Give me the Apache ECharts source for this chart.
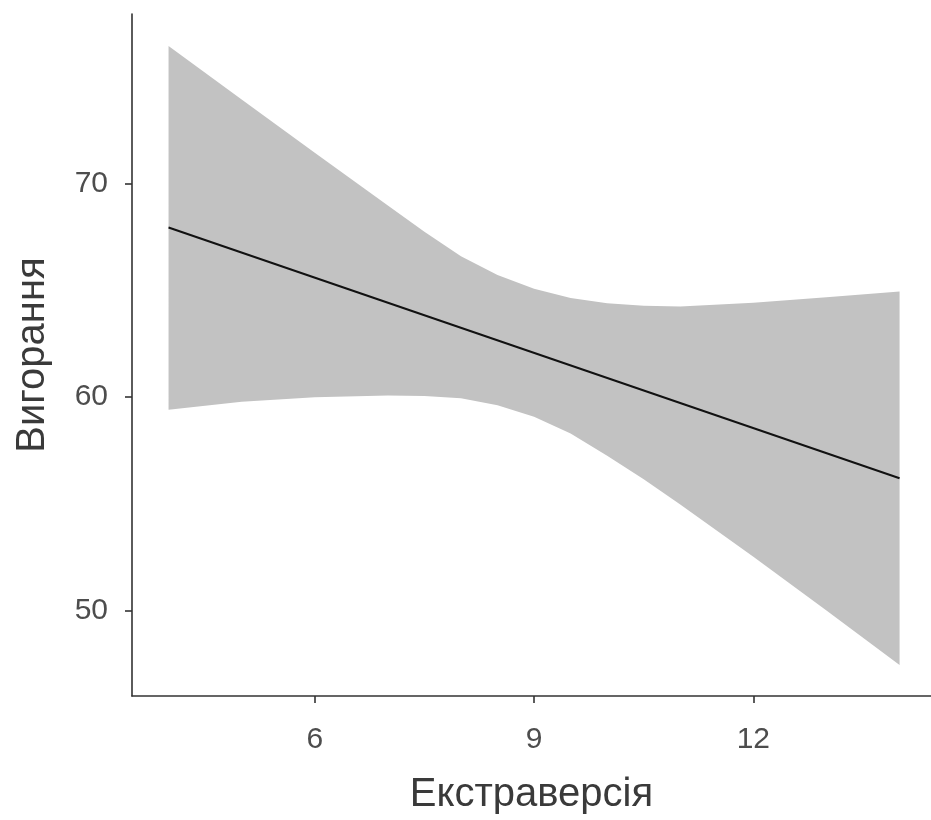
<!DOCTYPE html>
<html>
<head>
<meta charset="utf-8">
<style>
  html, body { margin: 0; padding: 0; background: #ffffff; }
  #chart { width: 931px; height: 820px; }
</style>
<script src="https://cdn.jsdelivr.net/npm/echarts@6/dist/echarts.min.js"></script>
</head>
<body>
<div id="chart"></div>
<script>
// Linear fit of burnout on extraversion with its confidence band
const bandX     = [4, 5, 6, 7, 7.5, 8, 8.5, 9, 9.5, 10, 10.5, 11, 12, 13, 14];
const bandUpper = [76.45, 73.95, 71.45, 68.98, 67.75, 66.6, 65.72, 65.08, 64.65, 64.4, 64.28, 64.25, 64.42, 64.68, 64.95];
const bandLower = [59.41, 59.78, 60.0, 60.08, 60.06, 59.95, 59.62, 59.08, 58.3, 57.25, 56.15, 54.97, 52.52, 50.0, 47.45];
const fitX      = [4, 14];
const fitValues = [67.95, 56.2];
const xTicks = [6, 9, 12];
const yTicks = [50, 60, 70];

const labelFont = { fontFamily: 'Liberation Sans', fontSize: 30, color: '#4d4d4d' };
const titleFont = { fontFamily: 'Liberation Sans', fontSize: 40, color: '#3a3a3a' };
const axisLineStyle = { color: '#333333', width: 1.6 };

// band rows: x, lower, upper
const bandRows = bandX.map((x, i) => [x, bandLower[i], bandUpper[i]]);

function renderBand(params, api) {
  if (params.dataIndex !== 0) return null;
  const top = bandRows.map(r => api.coord([r[0], r[2]]));
  const bottom = bandRows.map(r => api.coord([r[0], r[1]])).reverse();
  return {
    type: 'polygon',
    shape: { points: top.concat(bottom) },
    style: { fill: '#c2c2c2', stroke: null },
    silent: true
  };
}

const chart = echarts.init(document.getElementById('chart'), null, { renderer: 'canvas' });
chart.setOption({
  animation: false,
  backgroundColor: '#ffffff',
  grid: { left: 132, right: 0, top: 14, bottom: 122, containLabel: false },
  xAxis: {
    type: 'value',
    min: 3.5,
    max: 14.43,
    name: 'Екстраверсія',
    nameLocation: 'middle',
    nameGap: 79,
    nameTextStyle: titleFont,
    axisLine: { show: true, lineStyle: axisLineStyle },
    axisTick: { show: true, length: 7, customValues: xTicks, lineStyle: axisLineStyle },
    axisLabel: Object.assign({ margin: 29, customValues: xTicks }, labelFont),
    splitLine: { show: false }
  },
  yAxis: {
    type: 'value',
    min: 46.0,
    max: 77.95,
    name: 'Вигорання',
    nameLocation: 'middle',
    nameGap: 79,
    nameTextStyle: titleFont,
    axisLine: { show: true, lineStyle: axisLineStyle },
    axisTick: { show: true, length: 7, customValues: yTicks, lineStyle: axisLineStyle },
    axisLabel: Object.assign({ margin: 24, customValues: yTicks }, labelFont),
    splitLine: { show: false }
  },
  series: [
    {
      name: 'band',
      type: 'custom',
      data: bandRows,
      encode: { x: 0, y: [1, 2] },
      renderItem: renderBand,
      z: 1
    },
    {
      name: 'fit',
      type: 'line',
      data: fitX.map((x, i) => [x, fitValues[i]]),
      symbol: 'none',
      lineStyle: { color: '#111111', width: 2 },
      z: 5
    }
  ]
});
</script>
</body>
</html>
